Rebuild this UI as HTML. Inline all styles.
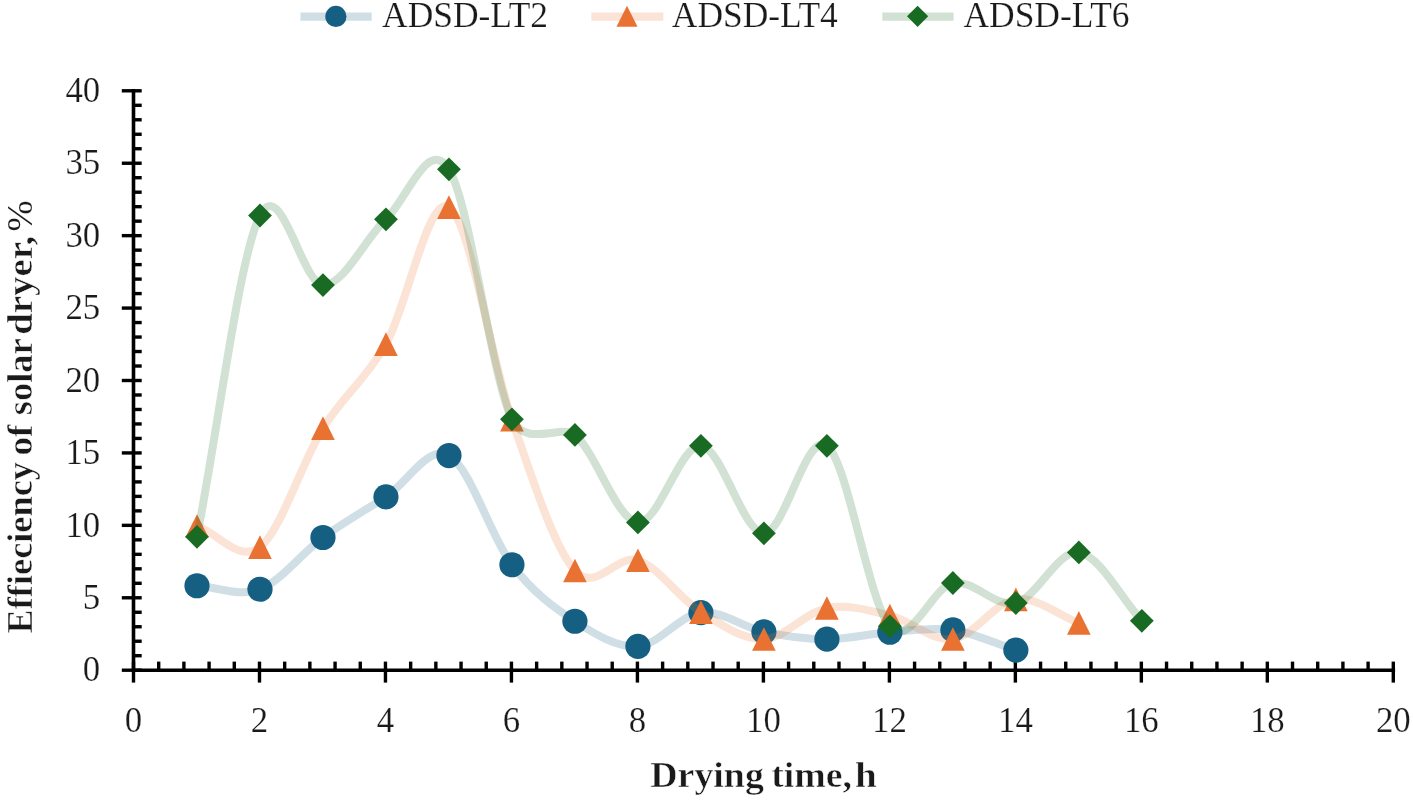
<!DOCTYPE html>
<html><head><meta charset="utf-8"><title>Efficiency of solar dryer</title>
<style>
html,body{margin:0;padding:0;background:#fff;}
body{width:1413px;height:800px;overflow:hidden;font-family:"Liberation Serif",serif;}
svg{display:block;will-change:transform;}
text{font-family:"Liberation Serif",serif;fill:#1a1a1a;}
.lg{font-size:36px;stroke:#fff;stroke-width:0.2px;paint-order:fill stroke;}
.tk{font-size:35.5px;stroke:#fff;stroke-width:0.2px;paint-order:fill stroke;}
.ti{font-size:35px;font-weight:bold;stroke:#fff;stroke-width:0.5px;paint-order:fill stroke;}
</style></head><body>
<svg width="1413" height="800" viewBox="0 0 1413 800">
<rect width="1413" height="800" fill="#fff"/>
<g stroke="#000" stroke-width="3.6" fill="none" stroke-linecap="butt">
<line x1="133.50" y1="89.00" x2="133.50" y2="672.00"/>
<line x1="131.70" y1="670.20" x2="1395.10" y2="670.20"/>
</g>
<g stroke="#000" stroke-width="3.4" fill="none">
<line x1="121.80" y1="670.20" x2="141.70" y2="670.20"/>
<line x1="133.50" y1="655.72" x2="141.70" y2="655.72"/>
<line x1="133.50" y1="641.23" x2="141.70" y2="641.23"/>
<line x1="133.50" y1="626.75" x2="141.70" y2="626.75"/>
<line x1="133.50" y1="612.26" x2="141.70" y2="612.26"/>
<line x1="121.80" y1="597.78" x2="141.70" y2="597.78"/>
<line x1="133.50" y1="583.29" x2="141.70" y2="583.29"/>
<line x1="133.50" y1="568.81" x2="141.70" y2="568.81"/>
<line x1="133.50" y1="554.32" x2="141.70" y2="554.32"/>
<line x1="133.50" y1="539.84" x2="141.70" y2="539.84"/>
<line x1="121.80" y1="525.35" x2="141.70" y2="525.35"/>
<line x1="133.50" y1="510.87" x2="141.70" y2="510.87"/>
<line x1="133.50" y1="496.38" x2="141.70" y2="496.38"/>
<line x1="133.50" y1="481.90" x2="141.70" y2="481.90"/>
<line x1="133.50" y1="467.41" x2="141.70" y2="467.41"/>
<line x1="121.80" y1="452.93" x2="141.70" y2="452.93"/>
<line x1="133.50" y1="438.44" x2="141.70" y2="438.44"/>
<line x1="133.50" y1="423.96" x2="141.70" y2="423.96"/>
<line x1="133.50" y1="409.47" x2="141.70" y2="409.47"/>
<line x1="133.50" y1="394.99" x2="141.70" y2="394.99"/>
<line x1="121.80" y1="380.50" x2="141.70" y2="380.50"/>
<line x1="133.50" y1="366.02" x2="141.70" y2="366.02"/>
<line x1="133.50" y1="351.53" x2="141.70" y2="351.53"/>
<line x1="133.50" y1="337.05" x2="141.70" y2="337.05"/>
<line x1="133.50" y1="322.56" x2="141.70" y2="322.56"/>
<line x1="121.80" y1="308.08" x2="141.70" y2="308.08"/>
<line x1="133.50" y1="293.59" x2="141.70" y2="293.59"/>
<line x1="133.50" y1="279.11" x2="141.70" y2="279.11"/>
<line x1="133.50" y1="264.62" x2="141.70" y2="264.62"/>
<line x1="133.50" y1="250.14" x2="141.70" y2="250.14"/>
<line x1="121.80" y1="235.65" x2="141.70" y2="235.65"/>
<line x1="133.50" y1="221.17" x2="141.70" y2="221.17"/>
<line x1="133.50" y1="206.68" x2="141.70" y2="206.68"/>
<line x1="133.50" y1="192.20" x2="141.70" y2="192.20"/>
<line x1="133.50" y1="177.71" x2="141.70" y2="177.71"/>
<line x1="121.80" y1="163.23" x2="141.70" y2="163.23"/>
<line x1="133.50" y1="148.74" x2="141.70" y2="148.74"/>
<line x1="133.50" y1="134.26" x2="141.70" y2="134.26"/>
<line x1="133.50" y1="119.77" x2="141.70" y2="119.77"/>
<line x1="133.50" y1="105.29" x2="141.70" y2="105.29"/>
<line x1="121.80" y1="90.80" x2="141.70" y2="90.80"/>
<line x1="133.50" y1="661.60" x2="133.50" y2="682.60"/>
<line x1="158.70" y1="661.60" x2="158.70" y2="670.20"/>
<line x1="183.89" y1="661.60" x2="183.89" y2="670.20"/>
<line x1="209.09" y1="661.60" x2="209.09" y2="670.20"/>
<line x1="234.28" y1="661.60" x2="234.28" y2="670.20"/>
<line x1="259.48" y1="661.60" x2="259.48" y2="682.60"/>
<line x1="284.68" y1="661.60" x2="284.68" y2="670.20"/>
<line x1="309.87" y1="661.60" x2="309.87" y2="670.20"/>
<line x1="335.07" y1="661.60" x2="335.07" y2="670.20"/>
<line x1="360.26" y1="661.60" x2="360.26" y2="670.20"/>
<line x1="385.46" y1="661.60" x2="385.46" y2="682.60"/>
<line x1="410.66" y1="661.60" x2="410.66" y2="670.20"/>
<line x1="435.85" y1="661.60" x2="435.85" y2="670.20"/>
<line x1="461.05" y1="661.60" x2="461.05" y2="670.20"/>
<line x1="486.24" y1="661.60" x2="486.24" y2="670.20"/>
<line x1="511.44" y1="661.60" x2="511.44" y2="682.60"/>
<line x1="536.64" y1="661.60" x2="536.64" y2="670.20"/>
<line x1="561.83" y1="661.60" x2="561.83" y2="670.20"/>
<line x1="587.03" y1="661.60" x2="587.03" y2="670.20"/>
<line x1="612.22" y1="661.60" x2="612.22" y2="670.20"/>
<line x1="637.42" y1="661.60" x2="637.42" y2="682.60"/>
<line x1="662.62" y1="661.60" x2="662.62" y2="670.20"/>
<line x1="687.81" y1="661.60" x2="687.81" y2="670.20"/>
<line x1="713.01" y1="661.60" x2="713.01" y2="670.20"/>
<line x1="738.20" y1="661.60" x2="738.20" y2="670.20"/>
<line x1="763.40" y1="661.60" x2="763.40" y2="682.60"/>
<line x1="788.60" y1="661.60" x2="788.60" y2="670.20"/>
<line x1="813.79" y1="661.60" x2="813.79" y2="670.20"/>
<line x1="838.99" y1="661.60" x2="838.99" y2="670.20"/>
<line x1="864.18" y1="661.60" x2="864.18" y2="670.20"/>
<line x1="889.38" y1="661.60" x2="889.38" y2="682.60"/>
<line x1="914.58" y1="661.60" x2="914.58" y2="670.20"/>
<line x1="939.77" y1="661.60" x2="939.77" y2="670.20"/>
<line x1="964.97" y1="661.60" x2="964.97" y2="670.20"/>
<line x1="990.16" y1="661.60" x2="990.16" y2="670.20"/>
<line x1="1015.36" y1="661.60" x2="1015.36" y2="682.60"/>
<line x1="1040.56" y1="661.60" x2="1040.56" y2="670.20"/>
<line x1="1065.75" y1="661.60" x2="1065.75" y2="670.20"/>
<line x1="1090.95" y1="661.60" x2="1090.95" y2="670.20"/>
<line x1="1116.14" y1="661.60" x2="1116.14" y2="670.20"/>
<line x1="1141.34" y1="661.60" x2="1141.34" y2="682.60"/>
<line x1="1166.54" y1="661.60" x2="1166.54" y2="670.20"/>
<line x1="1191.73" y1="661.60" x2="1191.73" y2="670.20"/>
<line x1="1216.93" y1="661.60" x2="1216.93" y2="670.20"/>
<line x1="1242.12" y1="661.60" x2="1242.12" y2="670.20"/>
<line x1="1267.32" y1="661.60" x2="1267.32" y2="682.60"/>
<line x1="1292.52" y1="661.60" x2="1292.52" y2="670.20"/>
<line x1="1317.71" y1="661.60" x2="1317.71" y2="670.20"/>
<line x1="1342.91" y1="661.60" x2="1342.91" y2="670.20"/>
<line x1="1368.10" y1="661.60" x2="1368.10" y2="670.20"/>
<line x1="1393.30" y1="661.60" x2="1393.30" y2="682.60"/>
</g>
<path d="M196.99 585.75 C217.99 586.91 238.98 597.27 259.98 589.23 C280.98 581.19 301.97 552.92 322.97 537.52 C343.97 522.12 364.96 510.48 385.96 496.81 C406.96 483.15 427.95 444.21 448.95 455.53 C469.95 466.85 490.94 537.13 511.94 564.75 C532.94 592.37 553.93 607.65 574.93 621.24 C595.93 634.83 616.92 647.75 637.92 646.30 C658.92 644.85 679.91 614.96 700.91 612.55 C721.91 610.14 742.90 627.37 763.90 631.81 C784.90 636.26 805.89 639.13 826.89 639.20 C847.89 639.27 868.88 633.79 889.88 632.25 C910.88 630.70 931.87 626.96 952.87 629.93 C973.87 632.90 994.86 643.35 1015.86 650.07" fill="none" stroke="#156082" stroke-opacity="0.2" stroke-width="8.0" stroke-linecap="round" stroke-linejoin="round"/>
<circle cx="196.99" cy="585.75" r="12.60" fill="#156082"/>
<circle cx="259.98" cy="589.23" r="12.60" fill="#156082"/>
<circle cx="322.97" cy="537.52" r="12.60" fill="#156082"/>
<circle cx="385.96" cy="496.81" r="12.60" fill="#156082"/>
<circle cx="448.95" cy="455.53" r="12.60" fill="#156082"/>
<circle cx="511.94" cy="564.75" r="12.60" fill="#156082"/>
<circle cx="574.93" cy="621.24" r="12.60" fill="#156082"/>
<circle cx="637.92" cy="646.30" r="12.60" fill="#156082"/>
<circle cx="700.91" cy="612.55" r="12.60" fill="#156082"/>
<circle cx="763.90" cy="631.81" r="12.60" fill="#156082"/>
<circle cx="826.89" cy="639.20" r="12.60" fill="#156082"/>
<circle cx="889.88" cy="632.25" r="12.60" fill="#156082"/>
<circle cx="952.87" cy="629.93" r="12.60" fill="#156082"/>
<circle cx="1015.86" cy="650.07" r="12.60" fill="#156082"/>
<path d="M196.99 526.07 C217.99 533.08 238.98 563.40 259.98 547.08 C280.98 530.76 301.97 461.98 322.97 428.16 C343.97 394.33 364.96 380.98 385.96 344.14 C406.96 307.30 427.95 194.54 448.95 207.11 C469.95 219.69 490.94 359.04 511.94 419.61 C532.94 480.18 553.93 547.10 574.93 570.54 C595.93 593.98 616.92 553.33 637.92 560.26 C658.92 567.19 679.91 598.98 700.91 612.12 C721.91 625.25 742.90 639.73 763.90 639.06 C784.90 638.38 805.89 611.99 826.89 608.06 C847.89 604.12 868.88 610.28 889.88 615.45 C910.88 620.61 931.87 641.74 952.87 639.06 C973.87 636.38 994.86 602.07 1015.86 599.37 C1036.86 596.66 1057.85 615.01 1078.85 622.83" fill="none" stroke="#e97132" stroke-opacity="0.2" stroke-width="8.0" stroke-linecap="round" stroke-linejoin="round"/>
<path d="M196.99 514.27 L208.79 537.87 L185.19 537.87 Z" fill="#e97132"/>
<path d="M259.98 535.28 L271.78 558.88 L248.18 558.88 Z" fill="#e97132"/>
<path d="M322.97 416.36 L334.77 439.96 L311.17 439.96 Z" fill="#e97132"/>
<path d="M385.96 332.34 L397.76 355.94 L374.16 355.94 Z" fill="#e97132"/>
<path d="M448.95 195.31 L460.75 218.91 L437.15 218.91 Z" fill="#e97132"/>
<path d="M511.94 407.81 L523.74 431.41 L500.14 431.41 Z" fill="#e97132"/>
<path d="M574.93 558.74 L586.73 582.34 L563.13 582.34 Z" fill="#e97132"/>
<path d="M637.92 548.46 L649.72 572.06 L626.12 572.06 Z" fill="#e97132"/>
<path d="M700.91 600.32 L712.71 623.92 L689.11 623.92 Z" fill="#e97132"/>
<path d="M763.90 627.26 L775.70 650.86 L752.10 650.86 Z" fill="#e97132"/>
<path d="M826.89 596.26 L838.69 619.86 L815.09 619.86 Z" fill="#e97132"/>
<path d="M889.88 603.65 L901.68 627.25 L878.08 627.25 Z" fill="#e97132"/>
<path d="M952.87 627.26 L964.67 650.86 L941.07 650.86 Z" fill="#e97132"/>
<path d="M1015.86 587.57 L1027.66 611.17 L1004.06 611.17 Z" fill="#e97132"/>
<path d="M1078.85 611.03 L1090.65 634.63 L1067.05 634.63 Z" fill="#e97132"/>
<path d="M196.99 536.79 C217.99 429.70 238.98 257.47 259.98 215.52 C280.97 173.57 301.98 284.42 322.97 285.04 C343.97 285.67 364.96 238.57 385.96 219.28 C406.96 199.99 427.95 135.97 448.95 169.31 C469.95 202.65 490.94 375.04 511.94 419.32 C525.85 448.64 561.02 423.58 574.93 434.96 C595.93 452.15 616.92 520.64 637.92 522.45 C658.92 524.26 679.91 444.02 700.91 445.83 C721.91 447.64 742.90 533.32 763.90 533.32 C784.90 533.32 805.89 430.33 826.89 445.83 C847.89 461.33 868.88 603.45 889.88 626.31 C910.88 649.17 931.87 586.89 952.87 583.00 C973.87 579.11 994.86 608.08 1015.86 602.99 C1036.86 597.90 1057.85 549.47 1078.85 552.44 C1099.85 555.41 1120.84 598.02 1141.84 620.81" fill="none" stroke="#196b24" stroke-opacity="0.2" stroke-width="8.0" stroke-linecap="round" stroke-linejoin="round"/>
<path d="M196.99 524.89 L208.89 536.79 L196.99 548.69 L185.09 536.79 Z" fill="#196b24"/>
<path d="M259.98 203.62 L271.88 215.52 L259.98 227.42 L248.08 215.52 Z" fill="#196b24"/>
<path d="M322.97 273.14 L334.87 285.04 L322.97 296.94 L311.07 285.04 Z" fill="#196b24"/>
<path d="M385.96 207.38 L397.86 219.28 L385.96 231.18 L374.06 219.28 Z" fill="#196b24"/>
<path d="M448.95 157.41 L460.85 169.31 L448.95 181.21 L437.05 169.31 Z" fill="#196b24"/>
<path d="M511.94 407.42 L523.84 419.32 L511.94 431.22 L500.04 419.32 Z" fill="#196b24"/>
<path d="M574.93 423.06 L586.83 434.96 L574.93 446.86 L563.03 434.96 Z" fill="#196b24"/>
<path d="M637.92 510.55 L649.82 522.45 L637.92 534.35 L626.02 522.45 Z" fill="#196b24"/>
<path d="M700.91 433.93 L712.81 445.83 L700.91 457.73 L689.01 445.83 Z" fill="#196b24"/>
<path d="M763.90 521.42 L775.80 533.32 L763.90 545.22 L752.00 533.32 Z" fill="#196b24"/>
<path d="M826.89 433.93 L838.79 445.83 L826.89 457.73 L814.99 445.83 Z" fill="#196b24"/>
<path d="M889.88 614.41 L901.78 626.31 L889.88 638.21 L877.98 626.31 Z" fill="#196b24"/>
<path d="M952.87 571.10 L964.77 583.00 L952.87 594.90 L940.97 583.00 Z" fill="#196b24"/>
<path d="M1015.86 591.09 L1027.76 602.99 L1015.86 614.89 L1003.96 602.99 Z" fill="#196b24"/>
<path d="M1078.85 540.54 L1090.75 552.44 L1078.85 564.34 L1066.95 552.44 Z" fill="#196b24"/>
<path d="M1141.84 608.91 L1153.74 620.81 L1141.84 632.71 L1129.94 620.81 Z" fill="#196b24"/>
<line x1="300.40" y1="16.6" x2="371.70" y2="16.6" stroke="#156082" stroke-opacity="0.2" stroke-width="8.4"/>
<circle cx="335.90" cy="16.40" r="10.60" fill="#156082"/>
<line x1="591.30" y1="16.6" x2="663.30" y2="16.6" stroke="#e97132" stroke-opacity="0.2" stroke-width="8.4"/>
<path d="M627.00 5.80 L637.50 26.80 L616.50 26.80 Z" fill="#e97132"/>
<line x1="882.30" y1="16.6" x2="953.60" y2="16.6" stroke="#196b24" stroke-opacity="0.2" stroke-width="8.4"/>
<path d="M917.60 5.70 L928.20 16.30 L917.60 26.90 L907.00 16.30 Z" fill="#196b24"/>
<text class="lg" x="382.1" y="26.6" textLength="166" lengthAdjust="spacingAndGlyphs">ADSD-LT2</text>
<text class="lg" x="671.8" y="26.6" textLength="166" lengthAdjust="spacingAndGlyphs">ADSD-LT4</text>
<text class="lg" x="963.5" y="26.6" textLength="166" lengthAdjust="spacingAndGlyphs">ADSD-LT6</text>
<text class="tk" x="82.8" y="681.4" textLength="17.4" lengthAdjust="spacingAndGlyphs">0</text>
<text class="tk" x="82.8" y="609.0" textLength="17.4" lengthAdjust="spacingAndGlyphs">5</text>
<text class="tk" x="65.4" y="536.6" textLength="34.8" lengthAdjust="spacingAndGlyphs">10</text>
<text class="tk" x="65.4" y="464.1" textLength="34.8" lengthAdjust="spacingAndGlyphs">15</text>
<text class="tk" x="65.4" y="391.7" textLength="34.8" lengthAdjust="spacingAndGlyphs">20</text>
<text class="tk" x="65.4" y="319.3" textLength="34.8" lengthAdjust="spacingAndGlyphs">25</text>
<text class="tk" x="65.4" y="246.9" textLength="34.8" lengthAdjust="spacingAndGlyphs">30</text>
<text class="tk" x="65.4" y="174.4" textLength="34.8" lengthAdjust="spacingAndGlyphs">35</text>
<text class="tk" x="65.4" y="102.0" textLength="34.8" lengthAdjust="spacingAndGlyphs">40</text>
<text class="tk" x="124.8" y="731.6" textLength="17.4" lengthAdjust="spacingAndGlyphs">0</text>
<text class="tk" x="250.8" y="731.6" textLength="17.4" lengthAdjust="spacingAndGlyphs">2</text>
<text class="tk" x="376.8" y="731.6" textLength="17.4" lengthAdjust="spacingAndGlyphs">4</text>
<text class="tk" x="502.7" y="731.6" textLength="17.4" lengthAdjust="spacingAndGlyphs">6</text>
<text class="tk" x="628.7" y="731.6" textLength="17.4" lengthAdjust="spacingAndGlyphs">8</text>
<text class="tk" x="746.0" y="731.6" textLength="34.8" lengthAdjust="spacingAndGlyphs">10</text>
<text class="tk" x="872.0" y="731.6" textLength="34.8" lengthAdjust="spacingAndGlyphs">12</text>
<text class="tk" x="998.0" y="731.6" textLength="34.8" lengthAdjust="spacingAndGlyphs">14</text>
<text class="tk" x="1123.9" y="731.6" textLength="34.8" lengthAdjust="spacingAndGlyphs">16</text>
<text class="tk" x="1249.9" y="731.6" textLength="34.8" lengthAdjust="spacingAndGlyphs">18</text>
<text class="tk" x="1375.9" y="731.6" textLength="34.8" lengthAdjust="spacingAndGlyphs">20</text>
<text class="ti" style="font-weight:normal;stroke-width:0.1px" transform="translate(31.5 231.6) rotate(-90)" textLength="31" lengthAdjust="spacingAndGlyphs">%</text>
<text class="ti" x="650.3" y="787" textLength="113.5" lengthAdjust="spacingAndGlyphs">Drying</text>
<text class="ti" x="771.2" y="787" textLength="80.8" lengthAdjust="spacingAndGlyphs">time,</text>
<text class="ti" x="854.9" y="787" textLength="21.8" lengthAdjust="spacingAndGlyphs">h</text>
<text class="ti" transform="translate(31.5 633.5) rotate(-90)" textLength="171.5" lengthAdjust="spacingAndGlyphs">Effieciency</text>
<text class="ti" transform="translate(31.5 455.5) rotate(-90)" textLength="31.0" lengthAdjust="spacingAndGlyphs">of</text>
<text class="ti" transform="translate(31.5 415.2) rotate(-90)" textLength="77.0" lengthAdjust="spacingAndGlyphs">solar</text>
<text class="ti" transform="translate(31.5 334.8) rotate(-90)" textLength="99.0" lengthAdjust="spacingAndGlyphs">dryer,</text>
</svg>
</body></html>
